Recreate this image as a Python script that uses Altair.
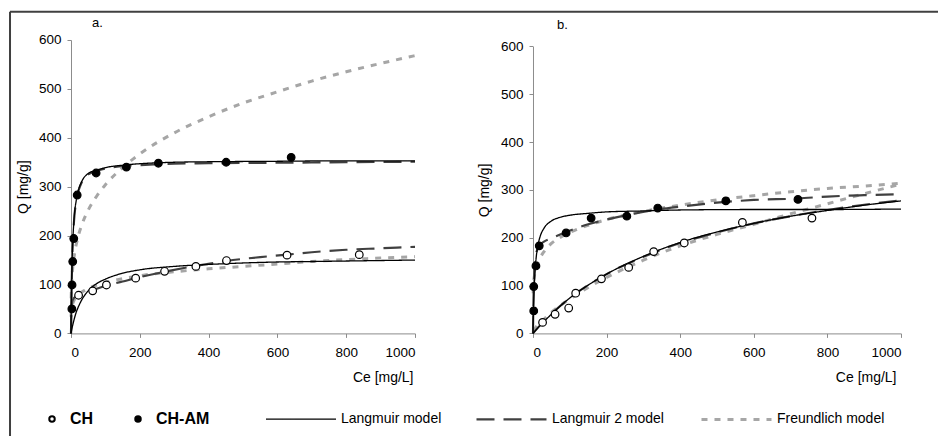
import altair as alt
import pandas as pd

# ---------------- Panel a: measured points ----------------
A_CH_X = [22, 63, 103, 188, 272, 363, 452, 628, 838]
A_CH_Y = [78, 87, 99, 113, 127, 137, 149, 160, 161]
A_AM_X = [2.5, 3, 5, 8, 18, 73, 161, 254, 451, 640]
A_AM_Y = [50, 99, 147, 194, 283, 328, 340, 348, 350, 360]

# Panel a: model curves
A_CH_L_X = [0, 2, 5, 10, 15, 20, 30, 50, 75, 100, 150, 200, 300, 400, 500, 600, 700, 800, 900, 1000]
A_CH_L_Y = [0, 7, 17, 31, 43, 52, 67, 87, 102, 111, 123, 130, 137, 141, 144, 146, 147, 148, 149, 150]
A_CH_L2_X = [0, 0.5, 1, 2, 4, 8, 22, 40, 63, 103, 150, 188, 272, 363, 452, 550, 628, 700, 800, 900, 1000]
A_CH_L2_Y = [0, 30, 45, 58, 66, 72, 78, 83, 88, 98, 106, 113, 126, 138, 148, 156, 161, 166, 171, 174, 177]
A_CH_F_X = [0.2, 1, 3, 5, 10, 20, 40, 60, 100, 150, 200, 300, 400, 500, 600, 700, 800, 900, 1000]
A_CH_F_Y = [34, 46, 56, 61, 69, 78, 88, 95, 104, 112, 118, 126, 132, 137, 142, 147, 151, 154, 157]
A_AM_L_X = [0, 1, 2, 4, 6, 8, 10, 15, 20, 30, 50, 75, 100, 150, 200, 300, 400, 600, 800, 1000]
A_AM_L_Y = [0, 63, 108, 166, 201, 225, 244, 271, 289, 309, 327, 334, 339, 344, 347, 350, 351, 352, 353, 353]
A_AM_L2_X = [0, 1, 2, 4, 6, 8, 10, 15, 20, 30, 50, 75, 100, 150, 200, 300, 400, 600, 800, 1000]
A_AM_L2_Y = [0, 60, 104, 162, 198, 222, 241, 269, 287, 307, 325, 332, 337, 342, 344, 347, 348, 349, 350, 351]
A_AM_F_X = [0.5, 1, 3, 5, 10, 20, 30, 50, 75, 100, 150, 200, 300, 400, 500, 600, 700, 800, 900, 1000]
A_AM_F_Y = [72, 87, 117, 134, 162, 196, 219, 252, 281, 304, 339, 367, 410, 443, 471, 494, 516, 535, 552, 568]

# ---------------- Panel b: measured points ----------------
B_CH_X = [26, 60, 97, 116, 186, 260, 328, 411, 569, 758]
B_CH_Y = [23, 40, 53, 84, 114, 138, 171, 189, 232, 241]
B_AM_X = [2, 2, 8, 17, 90, 158, 255, 339, 524, 720]
B_AM_Y = [47, 98, 141, 183, 210, 241, 245, 262, 277, 280]

# Panel b: model curves
B_CH_L_X = [0, 25, 50, 100, 150, 200, 300, 400, 500, 600, 700, 800, 900, 1000]
B_CH_L_Y = [0, 21, 40, 74, 101, 124, 161, 190, 212, 230, 245, 257, 268, 277]
B_CH_L2_X = [0, 25, 50, 100, 150, 200, 300, 400, 500, 600, 700, 800, 900, 1000]
B_CH_L2_Y = [0, 22, 41, 74, 101, 124, 160, 189, 211, 230, 245, 258, 269, 278]
B_CH_F_X = [1, 10, 25, 50, 100, 150, 200, 300, 400, 500, 600, 700, 800, 900, 1000]
B_CH_F_Y = [5, 15, 26, 44, 72, 96, 117, 153, 183, 207, 228, 250, 271, 292, 312]
B_AM_L_X = [0, 1, 2, 4, 6, 10, 15, 20, 30, 50, 75, 100, 150, 200, 300, 400, 600, 800, 1000]
B_AM_L_Y = [0, 40, 69, 109, 135, 168, 190, 204, 220, 235, 243, 247, 251, 254, 256, 258, 259, 259, 260]
B_AM_L2_X = [0, 1, 2, 4, 8, 17, 30, 50, 90, 150, 200, 254, 339, 400, 524, 600, 720, 800, 900, 1000]
B_AM_L2_Y = [0, 60, 95, 135, 165, 183, 192, 199, 212, 228, 238, 247, 259, 265, 275, 279, 282, 286, 289, 291]
B_AM_F_X = [0.5, 1, 3, 5, 10, 20, 30, 50, 75, 100, 150, 200, 300, 400, 500, 600, 700, 800, 900, 1000]
B_AM_F_Y = [84, 95, 115, 126, 141, 159, 171, 188, 201, 211, 226, 238, 255, 268, 279, 288, 296, 303, 308, 314]

SERIES = ["CH", "CH-AM"]
MODELS = ["Langmuir model", "Langmuir 2 model", "Freundlich model"]
X_TICKS = [0, 200, 400, 600, 800, 1000]
Y_TICKS = [0, 100, 200, 300, 400, 500, 600]

FONT = "Liberation Sans"


def rows_points(panel, series, xs, ys):
    return [{"panel": panel, "series": series, "ce": x, "q": y} for x, y in zip(xs, ys)]


def rows_curve(panel, series, model, xs, ys):
    return [{"panel": panel, "series": series, "model": model, "ce": x, "q": y}
            for x, y in zip(xs, ys)]


points = pd.DataFrame(
    rows_points("a", "CH", A_CH_X, A_CH_Y) + rows_points("a", "CH-AM", A_AM_X, A_AM_Y)
    + rows_points("b", "CH", B_CH_X, B_CH_Y) + rows_points("b", "CH-AM", B_AM_X, B_AM_Y)
)
curves = pd.DataFrame(
    rows_curve("a", "CH", MODELS[0], A_CH_L_X, A_CH_L_Y)
    + rows_curve("a", "CH", MODELS[1], A_CH_L2_X, A_CH_L2_Y)
    + rows_curve("a", "CH", MODELS[2], A_CH_F_X, A_CH_F_Y)
    + rows_curve("a", "CH-AM", MODELS[0], A_AM_L_X, A_AM_L_Y)
    + rows_curve("a", "CH-AM", MODELS[1], A_AM_L2_X, A_AM_L2_Y)
    + rows_curve("a", "CH-AM", MODELS[2], A_AM_F_X, A_AM_F_Y)
    + rows_curve("b", "CH", MODELS[0], B_CH_L_X, B_CH_L_Y)
    + rows_curve("b", "CH", MODELS[1], B_CH_L2_X, B_CH_L2_Y)
    + rows_curve("b", "CH", MODELS[2], B_CH_F_X, B_CH_F_Y)
    + rows_curve("b", "CH-AM", MODELS[0], B_AM_L_X, B_AM_L_Y)
    + rows_curve("b", "CH-AM", MODELS[1], B_AM_L2_X, B_AM_L2_Y)
    + rows_curve("b", "CH-AM", MODELS[2], B_AM_F_X, B_AM_F_Y)
)

model_legend = alt.Legend(
    title=None, orient="none", legendX=194, legendY=342.7, direction="horizontal",
    symbolType="stroke", symbolSize=4900, labelFontSize=14, labelFont=FONT,
    labelColor="black", labelOffset=4, columnPadding=30,
)
point_legend = alt.Legend(
    title=None, orient="none", legendX=-27, legendY=371, direction="horizontal",
    symbolType="circle", symbolSize=30, symbolStrokeColor="black", symbolStrokeWidth=2,
    labelFontSize=16, labelFontWeight="bold", labelFont=FONT, labelColor="black",
    labelOffset=10, columnPadding=36,
)

H = 293.4


def panel(pid, width, ytop, title_text, title_dx, title_offset, xtitle_x):
    pts = points[points.panel == pid]
    cur = curves[curves.panel == pid]
    xscale = alt.Scale(domain=[0, 1000], nice=False)
    yscale = alt.Scale(domain=[0, 600], nice=False, range=[H, ytop])
    xaxis = alt.Axis(
        values=X_TICKS, format="d", title="Ce [mg/L]", grid=False, tickSize=4, labelPadding=8,
        titleX=xtitle_x, titleY=37, titleAlign="right", titleBaseline="top",
    )
    yaxis = alt.Axis(
        values=Y_TICKS, title="Q [mg/g]", grid=False, tickSize=4, labelPadding=6,
        titleX=-41, titleY=(H + ytop) / 2, titleAngle=-90, titleAlign="center",
        titleBaseline="bottom",
    )
    enc = dict(
        x=alt.X("ce:Q", scale=xscale, axis=xaxis),
        y=alt.Y("q:Q", scale=yscale, axis=yaxis),
    )
    style = dict(
        color=alt.Color("model:N", scale=alt.Scale(domain=MODELS, range=["#000000", "#404040", "#a6a6a6"]),
                        legend=model_legend),
        strokeDash=alt.StrokeDash("model:N", scale=alt.Scale(domain=MODELS, range=[[1, 0], [18, 9], [6, 7]]),
                                  legend=model_legend),
        strokeWidth=alt.StrokeWidth("model:N", scale=alt.Scale(domain=MODELS, range=[1.3, 3, 3]),
                                    legend=model_legend),
        detail="series:N",
    )
    layers = []
    for m in [MODELS[2], MODELS[1], MODELS[0]]:
        layers.append(
            alt.Chart(cur[cur.model == m]).mark_line(interpolate="monotone").encode(**enc, **style)
        )
    layers.append(
        alt.Chart(pts).mark_circle(size=58, stroke="black", strokeWidth=1.2, opacity=1).encode(
            **enc,
            fill=alt.Fill("series:N", scale=alt.Scale(domain=SERIES, range=["white", "black"]),
                          legend=point_legend),
        )
    )
    if pid == "a":
        one = pd.DataFrame({"k": [0]})
        layers.append(alt.Chart(one).mark_rule(color="#404040", strokeWidth=2).encode(
            x=alt.value(-61), x2=alt.value(867), y=alt.value(-28.3)))
        layers.append(alt.Chart(one).mark_rule(color="#404040", strokeWidth=2).encode(
            x=alt.value(-61), y=alt.value(-28.3), y2=alt.value(396)))
    return alt.layer(*layers).properties(
        width=width, height=H,
        title=alt.TitleParams(title_text, anchor="start", frame="group", dx=title_dx, fontSize=13,
                              fontWeight="normal", font=FONT, color="black", offset=title_offset),
    )


pa = panel("a", 344, 0, "a.", 21, -19, 342)
pb = panel("b", 368, 6.4, "b.", 24, 7.7, 363)

chart = alt.HConcatChart(hconcat=[pa, pb], spacing=118, bounds="flush").properties(
    padding={"left": 0, "top": 2, "right": 0, "bottom": 0},
    background="white",
).configure_view(stroke="transparent").configure_axis(
    labelFont=FONT, labelFontSize=13.5, labelColor="black",
    titleFont=FONT, titleFontSize=14, titleFontWeight="normal", titleColor="black",
    domainColor="#8c8c8c", tickColor="#8c8c8c", domainWidth=1,
)

chart.save("out.html", embed_options={"renderer": "svg", "actions": False})
